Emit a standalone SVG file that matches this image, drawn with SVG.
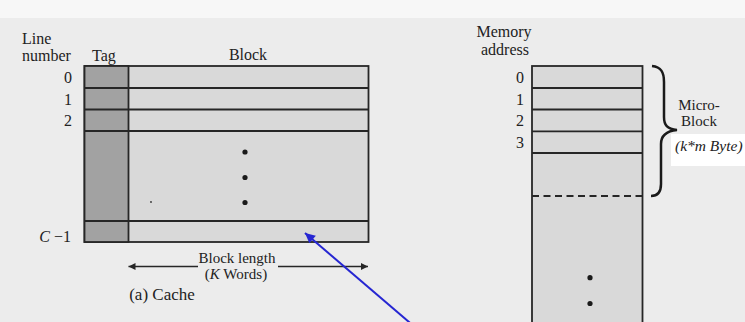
<svg xmlns="http://www.w3.org/2000/svg" width="745" height="322" viewBox="0 0 745 322">
  <style>
    .lbl { font-family: "Liberation Serif", "Times New Roman", serif; fill: #222; }
    .hdr { font-size: 16px; }
    .num { font-size: 16px; text-anchor: end; }
    .cap { font-size: 15px; text-anchor: middle; }
    .box { stroke: #262626; stroke-width: 1.8; }
    .tag { fill: #a2a2a2; }
    .blk { fill: #d9d9d9; }
    .rule { stroke: #262626; stroke-width: 1.8; fill: none; }
  </style>
  <defs>
    <marker id="arrowBlack" viewBox="0 0 10 10" refX="10" refY="5" markerWidth="9" markerHeight="7" markerUnits="userSpaceOnUse" orient="auto">
      <path d="M0,0 L10,5 L0,10 Z" fill="#262626"/>
    </marker>
    <marker id="arrowBlue" viewBox="0 0 10 10" refX="10" refY="5" markerWidth="13" markerHeight="10" markerUnits="userSpaceOnUse" orient="auto">
      <path d="M0,0 L10,5 L0,10 Z" fill="#2626d2"/>
    </marker>
  </defs>

  <!-- page -->
  <rect x="0" y="0" width="745" height="322" fill="#ececec"/>
  <rect x="0" y="0" width="745" height="18" fill="#f7f7f7"/>

  <!-- cache table -->
  <g id="cache">
    <rect class="box blk" x="84.5" y="66" width="284" height="176"/>
    <rect class="box tag" x="84.5" y="66" width="44" height="176"/>
    <path class="rule" d="M84.5,88 H368.5 M84.5,109.5 H368.5 M84.5,131 H368.5 M84.5,221 H368.5"/>
    <circle cx="245" cy="152" r="2.6" fill="#1a1a1a"/>
    <circle cx="245" cy="177.5" r="2.6" fill="#1a1a1a"/>
    <circle cx="245" cy="202.5" r="2.6" fill="#1a1a1a"/>
    <circle cx="151" cy="202" r="0.9" fill="#333"/>
  </g>

  <g id="cache-labels">
    <text class="lbl hdr" x="22" y="44">Line</text>
    <text class="lbl hdr" x="22" y="61">number</text>
    <text class="lbl hdr" x="104" y="61" text-anchor="middle">Tag</text>
    <text class="lbl hdr" x="248" y="60" text-anchor="middle">Block</text>
    <text class="lbl num" x="72" y="83">0</text>
    <text class="lbl num" x="72" y="105">1</text>
    <text class="lbl num" x="72" y="126">2</text>
    <text class="lbl num" x="71" y="242"><tspan font-style="italic">C</tspan> −1</text>
  </g>

  <!-- block length dimension -->
  <g id="block-length">
    <text class="lbl cap" x="237" y="263">Block length</text>
    <text class="lbl cap" x="236" y="279">(<tspan font-style="italic">K</tspan> Words)</text>
    <text class="lbl" x="162" y="300" font-size="17" text-anchor="middle">(a) Cache</text>
  </g>

  <!-- main memory column -->
  <g id="memory">
    <rect class="box blk" x="532" y="66" width="110.5" height="270"/>
    <path class="rule" d="M532,88 H642.5 M532,109.5 H642.5 M532,131.3 H642.5 M532,153 H642.5"/>
    <path class="rule" d="M532,196 H642.5" stroke-dasharray="7,4.5"/>
    <circle cx="590" cy="277.7" r="2.6" fill="#1a1a1a"/>
    <circle cx="590" cy="303.5" r="2.6" fill="#1a1a1a"/>
  </g>

  <g id="memory-labels">
    <text class="lbl hdr" x="504" y="37" text-anchor="middle">Memory</text>
    <text class="lbl hdr" x="505" y="55" text-anchor="middle">address</text>
    <text class="lbl num" x="524" y="83">0</text>
    <text class="lbl num" x="524" y="105">1</text>
    <text class="lbl num" x="524" y="126">2</text>
    <text class="lbl num" x="524" y="148">3</text>
  </g>

  <!-- micro-block brace -->
  <g id="micro-block">
    <path d="M652,66 C661,67 664,72 664,82 L664,117 C664,125 667,129 677,130 C667,131 661,135 661,144 L661,184 C661,192 658,196 651,196" fill="none" stroke="#1a1a1a" stroke-width="2.5"/>
    <text class="lbl cap" x="699" y="110">Micro-</text>
    <text class="lbl cap" x="699" y="126">Block</text>
    <rect x="671" y="134" width="74" height="32" fill="#ffffff"/>
    <text class="lbl" x="675" y="151" font-size="15.5" font-style="italic">(k*m Byte)</text>
  </g>

  <!-- connectors -->
  <g id="connectors">
    <line x1="198" y1="266.5" x2="128.5" y2="266.5" stroke="#262626" stroke-width="1.6" marker-end="url(#arrowBlack)"/>
    <line x1="278" y1="266.5" x2="368" y2="266.5" stroke="#262626" stroke-width="1.6" marker-end="url(#arrowBlack)"/>
    <line x1="416" y1="328" x2="305" y2="233" stroke="#2626d2" stroke-width="2" marker-end="url(#arrowBlue)"/>
  </g>
</svg>
